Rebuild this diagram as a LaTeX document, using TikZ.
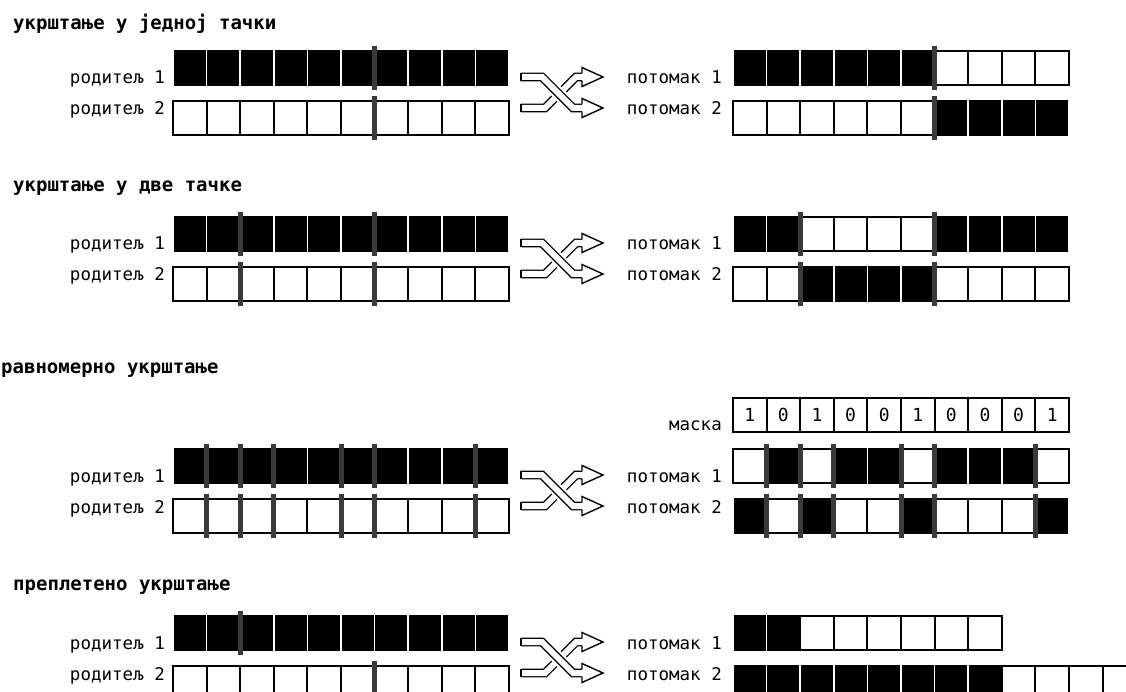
\documentclass[tikz,border=0pt]{standalone}
\usepackage{fontspec}
\setmainfont{DejaVu Sans Mono}
\definecolor{cutgray}{HTML}{3A3A3A}
\def\cw{33.6}
\def\ch{34}
\newcommand{\cellrow}[3]{%
  \foreach \c [count=\i from 0] in {#3} {%
    \ifnum\c=1
      \fill[black] ({#1+\i*\cw+0.8},{#2-1}) rectangle ({#1+(\i+1)*\cw-0.8},{#2+\ch+1});
    \else
      \draw[cellline, fill=white] ({#1+\i*\cw},{#2}) rectangle ({#1+(\i+1)*\cw},{#2+\ch});
    \fi
  }%
}
\newcommand{\cutsat}[3]{%
  \foreach \k in {#3} {\draw[cutline] ({#1+\k*\cw},{#2-5}) -- ({#1+\k*\cw},{#2+\ch+5});}%
}
\newcommand{\xarrows}[1]{%
\begin{scope}[shift={(520,#1)}]
  \draw[band] (1,31) -- (25,31) -- (56,0) -- (62,0);
  \draw[outl] (1,26.6) -- (1,35.4);
  \fill[white] (62,-9.5) -- (83,0) -- (62,9.5) -- cycle;
  \draw[outl] (62,-3.7) -- (62,-9.5) -- (83,0) -- (62,9.5) -- (62,3.7);
  \draw[white, line width=13pt] (8,0) -- (22,0) -- (53,31) -- (58,31);
  \draw[band] (1,0) -- (22,0) -- (53,31) -- (62,31);
  \draw[outl] (1,-4.4) -- (1,4.4);
  \fill[white] (62,21.5) -- (83,31) -- (62,40.5) -- cycle;
  \draw[outl] (62,27.3) -- (62,21.5) -- (83,31) -- (62,40.5) -- (62,34.7);
\end{scope}}
\tikzset{
  lbl/.style={font=\fontsize{17.5}{17.5}\selectfont, anchor=base east, inner sep=0pt},
  ttl/.style={font=\fontsize{19}{19}\selectfont\bfseries, anchor=base west, inner sep=0pt},
  cellline/.style={draw=black, line width=2pt},
  cutline/.style={draw=cutgray, line width=5pt},
  band/.style={draw=black, line width=1.4pt, double=white, double distance=6pt, line join=miter},
  outl/.style={draw=black, line width=1.4pt, line join=miter},
  maskdig/.style={font=\fontsize{18}{18}\selectfont, anchor=base, inner sep=0pt},
}
\begin{document}
\begin{tikzpicture}[x=1pt, y=-1pt]
\useasboundingbox (0,0) rectangle (1126,692);
\clip (0,0) rectangle (1126,692);
\fill[white] (0,0) rectangle (1126,692);
% ---------- section 1 ----------
\node[ttl] (t1) at (13,30) {укрштање у једној тачки};
\cellrow{173}{51}{1,1,1,1,1,1,1,1,1,1}
\cellrow{173}{101}{0,0,0,0,0,0,0,0,0,0}
\cutsat{173}{51}{6}
\cutsat{173}{101}{6}
\node[lbl] (s1p1) at (165,84) {родитељ 1};
\node[lbl] (s1p2) at (165,115) {родитељ 2};
\xarrows{77}
\node[lbl] (s1o1) at (722,84) {потомак 1};
\node[lbl] (s1o2) at (722,115) {потомак 2};
\cellrow{733}{51}{1,1,1,1,1,1,0,0,0,0}
\cellrow{733}{101}{0,0,0,0,0,0,1,1,1,1}
\cutsat{733}{51}{6}
\cutsat{733}{101}{6}
% ---------- section 2 ----------
\node[ttl] (t2) at (13,192) {укрштање у две тачке};
\cellrow{173}{217}{1,1,1,1,1,1,1,1,1,1}
\cellrow{173}{267}{0,0,0,0,0,0,0,0,0,0}
\cutsat{173}{217}{2,6}
\cutsat{173}{267}{2,6}
\node[lbl] (s2p1) at (165,250) {родитељ 1};
\node[lbl] (s2p2) at (165,281) {родитељ 2};
\xarrows{243}
\node[lbl] (s2o1) at (722,250) {потомак 1};
\node[lbl] (s2o2) at (722,281) {потомак 2};
\cellrow{733}{217}{1,1,0,0,0,0,1,1,1,1}
\cellrow{733}{267}{0,0,1,1,1,1,0,0,0,0}
\cutsat{733}{217}{2,6}
\cutsat{733}{267}{2,6}
% ---------- section 3 ----------
\node[ttl] (t3) at (1,373) {равномерно укрштање};
\cellrow{733}{398}{0,0,0,0,0,0,0,0,0,0}
\foreach \d [count=\i from 0] in {1,0,1,0,0,1,0,0,0,1}
  \node[maskdig] (m\i) at ({733+(\i+0.5)*\cw},421) {\d};
\node[lbl] (mlbl) at (722,430) {маска};
\cellrow{173}{449}{1,1,1,1,1,1,1,1,1,1}
\cellrow{173}{499}{0,0,0,0,0,0,0,0,0,0}
\cutsat{173}{449}{1,2,3,5,6,9}
\cutsat{173}{499}{1,2,3,5,6,9}
\node[lbl] (s3p1) at (165,482) {родитељ 1};
\node[lbl] (s3p2) at (165,513) {родитељ 2};
\xarrows{475}
\node[lbl] (s3o1) at (722,482) {потомак 1};
\node[lbl] (s3o2) at (722,513) {потомак 2};
\cellrow{733}{449}{0,1,0,1,1,0,1,1,1,0}
\cellrow{733}{499}{1,0,1,0,0,1,0,0,0,1}
\cutsat{733}{449}{1,2,3,5,6,9}
\cutsat{733}{499}{1,2,3,5,6,9}
% ---------- section 4 ----------
\node[ttl] (t4) at (13,590) {преплетено укрштање};
\cellrow{173}{616}{1,1,1,1,1,1,1,1,1,1}
\cellrow{173}{666}{0,0,0,0,0,0,0,0,0,0}
\cutsat{173}{616}{2}
\cutsat{173}{666}{6}
\node[lbl] (s4p1) at (165,649) {родитељ 1};
\node[lbl] (s4p2) at (165,680) {родитељ 2};
\xarrows{642}
\node[lbl] (s4o1) at (722,649) {потомак 1};
\node[lbl] (s4o2) at (722,680) {потомак 2};
\cellrow{733}{616}{1,1,0,0,0,0,0,0}
\cellrow{733}{666}{1,1,1,1,1,1,1,1,0,0,0,0}
\end{tikzpicture}
\end{document}
